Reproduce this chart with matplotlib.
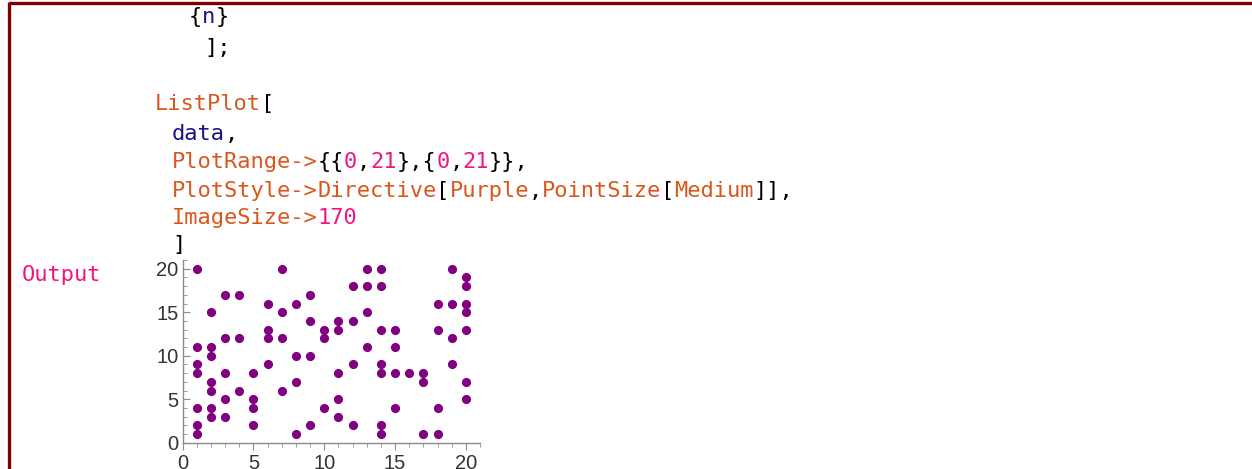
import matplotlib
matplotlib.use("Agg")
import matplotlib.pyplot as plt
from matplotlib.ticker import MultipleLocator
from matplotlib.lines import Line2D

xs = [1, 1, 1, 1, 1, 1, 1,
      2, 2, 2, 2, 2, 2, 2,
      3, 3, 3, 3, 3,
      4, 4, 4,
      5, 5, 5, 5,
      6, 6, 6, 6,
      7, 7, 7, 7,
      8, 8, 8, 8,
      9, 9, 9, 9,
      10, 10, 10,
      11, 11, 11, 11, 11,
      12, 12, 12, 12,
      13, 13, 13, 13,
      14, 14, 14, 14, 14, 14, 14,
      15, 15, 15, 15,
      16,
      17, 17, 17,
      18, 18, 18, 18,
      19, 19, 19, 19,
      20, 20, 20, 20, 20, 20, 20]
ys = [20, 11, 9, 8, 4, 2, 1,
      15, 11, 10, 7, 6, 4, 3,
      17, 12, 8, 5, 3,
      17, 12, 6,
      8, 5, 4, 2,
      16, 13, 12, 9,
      20, 15, 12, 6,
      16, 10, 7, 1,
      17, 14, 10, 2,
      13, 12, 4,
      14, 13, 8, 5, 3,
      18, 14, 9, 2,
      20, 18, 15, 11,
      20, 18, 13, 9, 8, 2, 1,
      13, 11, 8, 4,
      8,
      8, 7, 1,
      16, 13, 4, 1,
      20, 16, 12, 9,
      19, 18, 16, 15, 13, 7, 5]

x_range = (0, 21)
y_range = (0, 21)

W, H, DPI = 1252, 469, 100

ORANGE = "#D9561C"
PINK = "#F5137E"
NAVY = "#141487"
BLACK = "#000000"

# linhas de codigo: (x em px, y em px a partir do topo, segmentos)
code_lines = [
    (189, 17, [("{", BLACK), ("n", NAVY), ("}", BLACK)]),
    (204, 48, [("];", BLACK)]),
    (155, 104, [("ListPlot", ORANGE), ("[", BLACK)]),
    (172, 134, [("data", NAVY), (",", BLACK)]),
    (172, 162, [("PlotRange->", ORANGE), ("{{", BLACK), ("0", PINK), (",", BLACK),
                ("21", PINK), ("},{", BLACK), ("0", PINK), (",", BLACK),
                ("21", PINK), ("}},", BLACK)]),
    (172, 191, [("PlotStyle->", ORANGE), ("Directive", ORANGE), ("[", BLACK),
                ("Purple", ORANGE), (",", BLACK), ("PointSize", ORANGE), ("[", BLACK),
                ("Medium", ORANGE), ("]],", BLACK)]),
    (172, 218, [("ImageSize->", ORANGE), ("170", PINK)]),
    (172, 245, [("]", BLACK)]),
    (22, 275, [("Output", PINK)]),
]

fig = plt.figure(figsize=(W / DPI, H / DPI), dpi=DPI)
fig.patch.set_facecolor("white")

# moldura vermelho-escura (topo e esquerda)
fig.add_artist(Line2D([8.5 / W, 1.0], [1 - 3.5 / H] * 2, color="#7F0000", lw=2.4,
                      solid_capstyle="butt"))
fig.add_artist(Line2D([8.5 / W] * 2, [0, 1 - 2 / H], color="#7F0000", lw=2.4,
                      solid_capstyle="butt"))

# texto do codigo
fs = 15.8
char_w = fs * DPI / 72 * 0.6021
for x0, y0, segs in code_lines:
    cx = x0
    for txt, col in segs:
        fig.text(cx / W, 1 - y0 / H, txt, color=col, fontsize=fs,
                 family="DejaVu Sans Mono", va="center", ha="left")
        cx += len(txt) * char_w

# grafico
left_px, right_px = 182.5, 480
bottom_px, top_px = 442.7, 260
ax = fig.add_axes([left_px / W, 1 - bottom_px / H,
                   (right_px - left_px) / W, (bottom_px - top_px) / H])
ax.plot(xs, ys, "o", color="#800080", markersize=6.6, markeredgewidth=0, clip_on=False)
ax.set_xlim(*x_range)
ax.set_ylim(*y_range)
for s in ["top", "right"]:
    ax.spines[s].set_visible(False)
for s in ["left", "bottom"]:
    ax.spines[s].set_color("#8C8C8C")
    ax.spines[s].set_linewidth(1.0)
ax.xaxis.set_major_locator(MultipleLocator(5))
ax.xaxis.set_minor_locator(MultipleLocator(1))
ax.yaxis.set_major_locator(MultipleLocator(5))
ax.yaxis.set_minor_locator(MultipleLocator(1))
ax.tick_params(axis="both", which="major", length=5, width=0.8, color="#8C8C8C",
               labelsize=14.5, labelcolor="#333333", pad=3)
ax.tick_params(axis="both", which="minor", length=3, width=0.6, color="#8C8C8C")
ax.tick_params(axis="y", which="both", direction="in")
ax.tick_params(axis="x", which="both", direction="out")
for lbl in ax.get_xticklabels() + ax.get_yticklabels():
    lbl.set_family("Liberation Sans")

fig.savefig("out.png", dpi=DPI)
